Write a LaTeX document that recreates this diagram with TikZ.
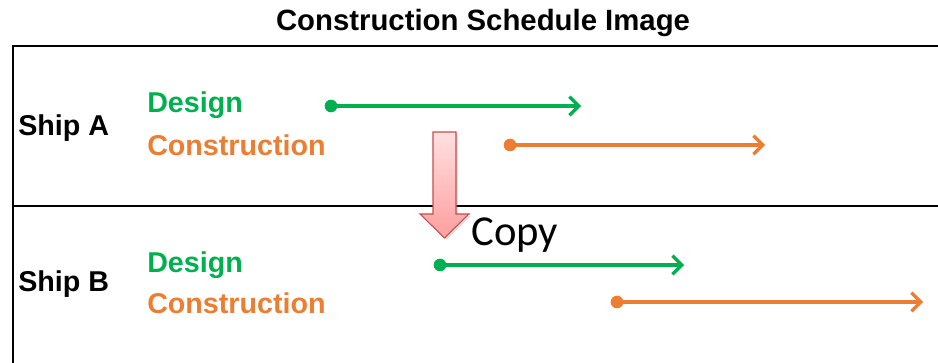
\documentclass[tikz,border=0pt]{standalone}
\usepackage{fontspec}
\setmainfont{Liberation Sans}
\newfontfamily\copyfont{Carlito}
\usetikzlibrary{positioning,arrows.meta,shadows}
\definecolor{zelena}{HTML}{00B050}
\definecolor{narandzasta}{HTML}{ED7D31}
\definecolor{crvena}{HTML}{C0504D}
\definecolor{rozesvetla}{HTML}{FFE0E0}
\definecolor{rozetamna}{HTML}{FF9E9E}

\begin{document}
\begin{tikzpicture}[x=0.75pt, y=-0.75pt,
  frame/.style={line width=1.5pt, black},
  ship/.style={anchor=west, font=\bfseries\fontsize{21.5}{24}\selectfont, inner sep=0pt},
  task/.style={anchor=west, font=\bfseries\fontsize{21.5}{24}\selectfont, inner sep=0pt},
  bar/.style={line width=3pt, -{Straight Barb[length=7pt, width=14pt, line width=2.4pt]}},
  start/.style={circle, inner sep=0pt, minimum size=9.5pt}
]
\useasboundingbox (0,0) rectangle (938,363);

% naslov
\node[font=\bfseries\fontsize{22}{24}\selectfont] (title) at (483,23) {Construction Schedule Image};

% okvir
\draw[frame] (13,363) -- (13,46) -- (938,46);
\draw[frame] (13,206) -- (938,206);

% brod A
\node[ship] (shipA) at (18,128) {Ship A};
\node[task, text=zelena] (desA) at (147,105) {Design};
\node[task, text=narandzasta] (conA) at (147,145) {Construction};

\node[start, fill=zelena] (dA1) at (331,106) {};
\coordinate (dA2) at (581,106);
\draw[bar, zelena] (dA1.center) -- (dA2);

\node[start, fill=narandzasta] (cA1) at (510,145) {};
\coordinate (cA2) at (765,145);
\draw[bar, narandzasta] (cA1.center) -- (cA2);

% kopiranje
\path[draw=crvena, line width=0.8pt, top color=rozesvetla, bottom color=rozetamna,
      drop shadow={opacity=0.25, shadow xshift=1.5pt, shadow yshift=-1.5pt}]
  (433,132) -- (456,132) -- (456,214) -- (469,214) -- (444.5,238)
  -- (420,214) -- (433,214) -- cycle;
\node[anchor=west, inner sep=0pt, font=\copyfont\fontsize{32}{34}\selectfont] (copy) at (471,235) {Copy};

% brod B
\node[ship] (shipB) at (18,284) {Ship B};
\node[task, text=zelena] (desB) at (147,265) {Design};
\node[task, text=narandzasta] (conB) at (147,303) {Construction};

\node[start, fill=zelena] (dB1) at (440,265) {};
\coordinate (dB2) at (684,265);
\draw[bar, zelena] (dB1.center) -- (dB2);

\node[start, fill=narandzasta] (cB1) at (617,302) {};
\coordinate (cB2) at (923,302);
\draw[bar, narandzasta] (cB1.center) -- (cB2);
\end{tikzpicture}
\end{document}
